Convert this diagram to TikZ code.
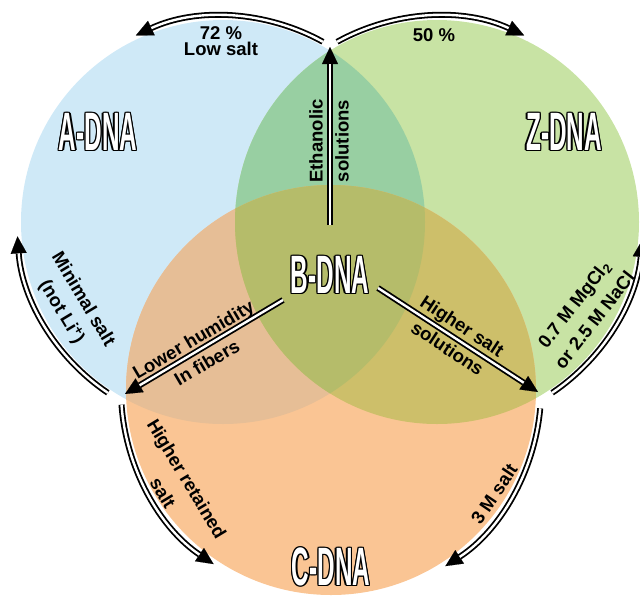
\documentclass[tikz,border=0pt]{standalone}
\usepackage{fontspec}
\usepackage{graphicx}
\setmainfont{Liberation Sans}
\usetikzlibrary{arrows.meta}
\definecolor{cAfill}{HTML}{CFE9F7}
\definecolor{cZfill}{HTML}{C8E3A4}
\definecolor{cCfill}{HTML}{FAC594}
\definecolor{cAZfill}{HTML}{98CFA2}
\definecolor{cACfill}{HTML}{E6BE96}
\definecolor{cZCfill}{HTML}{CDBF6A}
\definecolor{cAZCfill}{HTML}{B5BC6A}
\newcommand\olt[1]{%
 \rlap{\color{black}\hspace*{1.4pt}#1}%
 \rlap{\color{black}\hspace*{-1.4pt}#1}%
 \rlap{\color{black}\raisebox{1.4pt}{#1}}%
 \rlap{\color{black}\raisebox{-1.4pt}{#1}}%
 \rlap{\color{black}\hspace*{1pt}\raisebox{1pt}{#1}}%
 \rlap{\color{black}\hspace*{-1pt}\raisebox{1pt}{#1}}%
 \rlap{\color{black}\hspace*{1pt}\raisebox{-1pt}{#1}}%
 \rlap{\color{black}\hspace*{-1pt}\raisebox{-1pt}{#1}}%
 {\color{white}#1}}
\newcommand\dnatitle[1]{\olt{\scalebox{0.45}[1]{\fontsize{54}{54}\selectfont\bfseries #1}}}
\begin{document}
\begin{tikzpicture}[x=1pt,y=-1pt,
  lbl/.style={font=\bfseries\fontsize{18.5}{15.5}\selectfont, align=center, inner sep=0pt},
  titlenode/.style={inner sep=0pt},
  dblarrow/.style={line width=6pt, -{Triangle[length=17pt,width=16pt,line width=0.1pt]},
    postaction={draw=white, line width=2.4pt, -, shorten >=17pt}}]
\useasboundingbox (0,0) rectangle (640,595);
\coordinate (cA) at (223,222);
\coordinate (cZ) at (437,222);
\coordinate (cC) at (331,390);
% circles
\fill[cAfill] (cA) circle[radius=202];
\fill[cZfill] (cZ) circle[radius=202];
\fill[cCfill] (cC) circle[radius=205];
\begin{scope}\clip (cA) circle[radius=202]; \fill[cAZfill] (cZ) circle[radius=202];\end{scope}
\begin{scope}\clip (cA) circle[radius=202]; \fill[cACfill] (cC) circle[radius=205];\end{scope}
\begin{scope}\clip (cZ) circle[radius=202]; \fill[cZCfill] (cC) circle[radius=205];\end{scope}
\begin{scope}\clip (cA) circle[radius=202]; \clip (cZ) circle[radius=202]; \fill[cAZCfill] (cC) circle[radius=205];\end{scope}
% titles
\node[titlenode] (A) at (98,132) {\dnatitle{A-DNA}};
\node[titlenode] (Z) at (564,132) {\dnatitle{Z-DNA}};
\node[titlenode] (B) at (330,275) {\dnatitle{B-DNA}};
\node[titlenode] (C) at (331,567) {\dnatitle{C-DNA}};
% key points
\coordinate (pAZ) at (330,47);
\coordinate (pAC) at (125,394);
\coordinate (pZC) at (538,392);
\coordinate (bUp) at (330,225);
\coordinate (bLeft) at (283,300);
\coordinate (bRight) at (378,288);
\coordinate (s1) at ([shift={(-61:206)}]cA);
\coordinate (s2) at ([shift={(-119:206)}]cZ);
\coordinate (s3) at ([shift={(124:206)}]cA);
\coordinate (s4) at ([shift={(56:206)}]cZ);
\coordinate (s5) at ([shift={(176:210)}]cC);
\coordinate (s6) at ([shift={(5:210)}]cC);
% straight arrows
\draw[dblarrow] (bUp) -- (pAZ);
\draw[dblarrow] (bLeft) -- (pAC);
\draw[dblarrow] (bRight) -- (pZC);
% arc arrows
\draw[dblarrow] (s1) arc[start angle=-61, end angle=-115, radius=206];
\draw[dblarrow] (s2) arc[start angle=-119, end angle=-65, radius=206];
\draw[dblarrow] (s3) arc[start angle=124, end angle=176, radius=206];
\draw[dblarrow] (s4) arc[start angle=56, end angle=5, radius=206];
\draw[dblarrow] (s5) arc[start angle=176, end angle=124, radius=210];
\draw[dblarrow] (s6) arc[start angle=5, end angle=57, radius=210];
% labels
\node[lbl] (l72) at (221,41) {72 \%\\Low salt};
\node[lbl] (l50) at (434,35) {50 \%};
\node[lbl, rotate=90] (leth) at (329,141) {Ethanolic\\[10.5pt]solutions};
\node[lbl, rotate=-59] (lmin) at (72,306) {Minimal salt\\[9.5pt](not Li\textsuperscript{+})};
\node[lbl, rotate=30.5] (lhum) at (200,351) {Lower humidity\\[8.5pt]In fibers};
\node[lbl, rotate=-33.4] (lsalt) at (455,337) {Higher salt\\[8.5pt]solutions};
\node[lbl, rotate=52] (lmg) at (584,312) {0.7 M MgCl\textsubscript{2}\\[7.5pt]or 2.5 M NaCl};
\node[lbl, rotate=-59] (lret) at (175,486) {Higher retained\\[9.5pt]salt};
\node[lbl, rotate=56] (l3m) at (494,494) {3 M salt};
\end{tikzpicture}
\end{document}
